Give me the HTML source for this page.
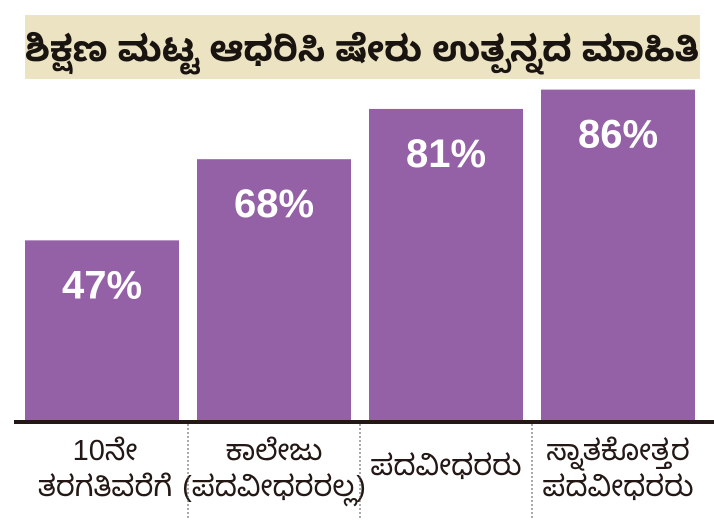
<!DOCTYPE html>
<html><head><meta charset="utf-8"><style>
body{margin:0;width:714px;height:519px;background:#fff;overflow:hidden;font-family:"Liberation Sans","Noto Sans Kannada",sans-serif}
</style></head><body>
<svg width="714" height="519">
<rect x="25" y="15" width="675" height="64" fill="#ece3c3"/>
<text x="362" y="61" text-anchor="middle" font-size="36" font-weight="bold" fill="#1a1410">ಶಿಕ್ಷಣ ಮಟ್ಟ ಆಧರಿಸಿ ಷೇರು ಉತ್ಪನ್ನದ ಮಾಹಿತಿ</text>
<g id="bars"></g>
<rect x="14" y="420" width="700" height="4" fill="#231815"/>
<g id="labels"></g>
</svg>
<script>
const categories=["10ನೇ|ತರಗತಿವರೆಗೆ","ಕಾಲೇಜು|(ಪದವೀಧರರಲ್ಲ)","ಪದವೀಧರರು","ಸ್ನಾತಕೋತ್ತರ|ಪದವೀಧರರು"];
const values=[47,68,81,86];
const valueLabels=["47%","68%","81%","86%"];
const NS="http://www.w3.org/2000/svg";
const base=422, scale=3.865, x0=25, step=172, bw=154;
function yOf(v){return base-v*scale;}
function xOf(i){return x0+i*step;}
const bars=document.getElementById('bars'),labels=document.getElementById('labels');
values.forEach((v,i)=>{
 const r=document.createElementNS(NS,'rect');
 
 
 r.setAttribute('x',xOf(i));r.setAttribute('y',yOf(v));r.setAttribute('width',bw);r.setAttribute('height',base-yOf(v));r.setAttribute('fill','#9561a6');
 bars.appendChild(r);
 const t=document.createElementNS(NS,'text');
 
 
 t.setAttribute('x',xOf(i)+bw/2);t.setAttribute('y',yOf(v)+58);t.setAttribute('text-anchor','middle');
 t.setAttribute('font-size','40');t.setAttribute('font-weight','bold');t.setAttribute('fill','#fff');
 t.textContent=valueLabels[i];bars.appendChild(t);
 const lines=categories[i].split('|');
 lines.forEach((ln,j)=>{
  const c=document.createElementNS(NS,'text');
  
  
  c.setAttribute('x',xOf(i)+bw/2-(i===0?-3:0));
  c.setAttribute('y',lines.length===1?475:460+j*36);
  c.setAttribute('text-anchor','middle');c.setAttribute('font-size','29');c.setAttribute('fill','#231815');
  c.textContent=ln;labels.appendChild(c);
 });
 if(i>0){
  const l=document.createElementNS(NS,'line');
  
  
  const sx=xOf(i)-9;
  l.setAttribute('x1',sx);l.setAttribute('x2',sx);l.setAttribute('y1',424);l.setAttribute('y2',519);
  l.setAttribute('stroke','#555');l.setAttribute('stroke-dasharray','2,2');l.setAttribute('stroke-width','1');
  labels.appendChild(l);
 }
});
</script>
</body></html>
